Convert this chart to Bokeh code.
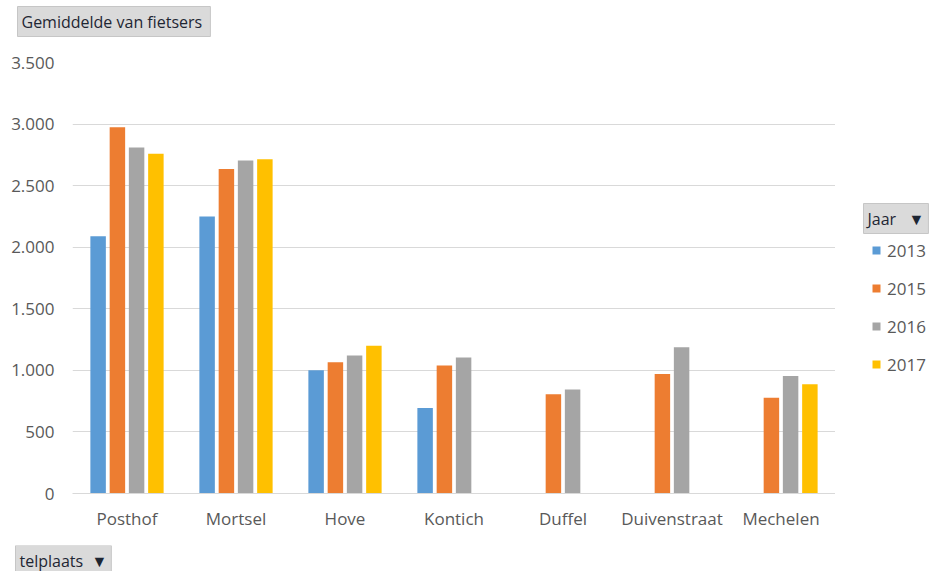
import numpy as np
from bokeh.plotting import figure
from bokeh.layouts import column, row
from bokeh.models import (ColumnDataSource, FactorRange, Range1d, Legend, LegendItem,
                          Label, FixedTicker)
from bokeh.transform import dodge
from bokeh.embed import file_html
from bokeh.resources import INLINE

nan = np.nan
categories = ["Posthof", "Mortsel", "Hove", "Kontich", "Duffel", "Duivenstraat", "Mechelen"]
years = ["2013", "2015", "2016", "2017"]
v2013 = [2090, 2250, 1000, 695, nan, nan, nan]
v2015 = [2975, 2635, 1065, 1040, 805, 970, 778]
v2016 = [2810, 2705, 1120, 1105, 845, 1188, 955]
v2017 = [2760, 2715, 1200, nan, nan, nan, 888]
colors = ["#5B9BD5", "#ED7D31", "#A5A5A5", "#FFC000"]
y_ticks = [0, 500, 1000, 1500, 2000, 2500, 3000, 3500]
y_tick_labels = ["0", "500", "1.000", "1.500", "2.000", "2.500", "3.000", "3.500"]

FONT = "Open Sans"
TXT = "#595959"
BTN_TXT = "#1E2633"
BTN_BG = "#DADADA"
BTN_BORDER = "#C6C6C6"

source = ColumnDataSource(data=dict(cat=categories, y2013=np.array(v2013, dtype=float),
                                    y2015=np.array(v2015, dtype=float),
                                    y2016=np.array(v2016, dtype=float),
                                    y2017=np.array(v2017, dtype=float)))

# ---- main chart ----
p = figure(x_range=FactorRange(*categories, range_padding=0), y_range=Range1d(0, 3500),
           width=835, height=495, output_backend="svg", toolbar_location=None,
           min_border_left=72, min_border_right=0, min_border_top=12, min_border_bottom=52)
p.outline_line_color = None

offsets = [-0.265, -0.088, 0.088, 0.265]
for yr, col, off in zip(years, colors, offsets):
    p.vbar(x=dodge("cat", off, range=p.x_range), top="y" + yr, width=0.142,
           source=source, color=col, line_color=None)

p.xgrid.grid_line_color = None
p.ygrid.grid_line_color = "#D9D9D9"
p.ygrid.grid_line_width = 1

p.yaxis.ticker = FixedTicker(ticks=y_ticks)
p.yaxis.major_label_overrides = {t: l for t, l in zip(y_ticks, y_tick_labels)}
p.yaxis.axis_line_color = None
p.yaxis.major_tick_line_color = None
p.yaxis.minor_tick_line_color = None
p.yaxis.major_label_standoff = 12
p.yaxis.major_label_text_font = FONT
p.yaxis.major_label_text_font_size = "17px"
p.yaxis.major_label_text_color = TXT

p.xaxis.axis_line_color = "#D9D9D9"
p.xaxis.major_tick_line_color = None
p.xaxis.minor_tick_line_color = None
p.xaxis.major_label_standoff = 7
p.xaxis.major_label_text_font = FONT
p.xaxis.major_label_text_font_size = "17px"
p.xaxis.major_label_text_color = TXT


def bare(width, height):
    f = figure(width=width, height=height, output_backend="svg", toolbar_location=None,
               x_axis_type=None, y_axis_type=None, x_range=Range1d(0, 1), y_range=Range1d(0, 1),
               min_border=0)
    f.outline_line_color = None
    return f


def button(f, text, x, y):
    f.add_layout(Label(x=x, y=y, x_units="screen", y_units="screen", text=text,
                       text_font=FONT, text_font_size="16px", text_color=BTN_TXT,
                       text_align="left", text_baseline="middle",
                       background_fill_color=BTN_BG, border_line_color=BTN_BORDER,
                       padding=4))


# ---- side panel: filter button + legend (frame aligned with main frame: 62..493) ----
side = bare(95, 495)
legend_renderers = []
for yr, col in zip(years, colors):
    legend_renderers.append(side.vbar(x=[nan], top=[nan], width=0.1, color=col, line_color=None))
legend = Legend(items=[LegendItem(label=yr, renderers=[r]) for yr, r in zip(years, legend_renderers)],
                location=(36, 117), orientation="vertical",
                glyph_width=10, glyph_height=10, label_height=24, spacing=14,
                padding=0, margin=0, label_standoff=6,
                label_text_font=FONT, label_text_font_size="17px", label_text_color=TXT,
                border_line_color=None, background_fill_alpha=0)
side.add_layout(legend)
button(side, "Jaar\u00a0\u00a0\u00a0\u25BC", 28, 275)

# ---- top and bottom buttons ----
top = bare(930, 50)
button(top, "Gemiddelde  van fietsers", 17, 29)

bottom = bare(930, 26)
button(bottom, "telplaats\u00a0\u00a0\u25BC", 15, 11)

layout = column(top, row(p, side), bottom)

open("out.html", "w").write(file_html(layout, INLINE))
